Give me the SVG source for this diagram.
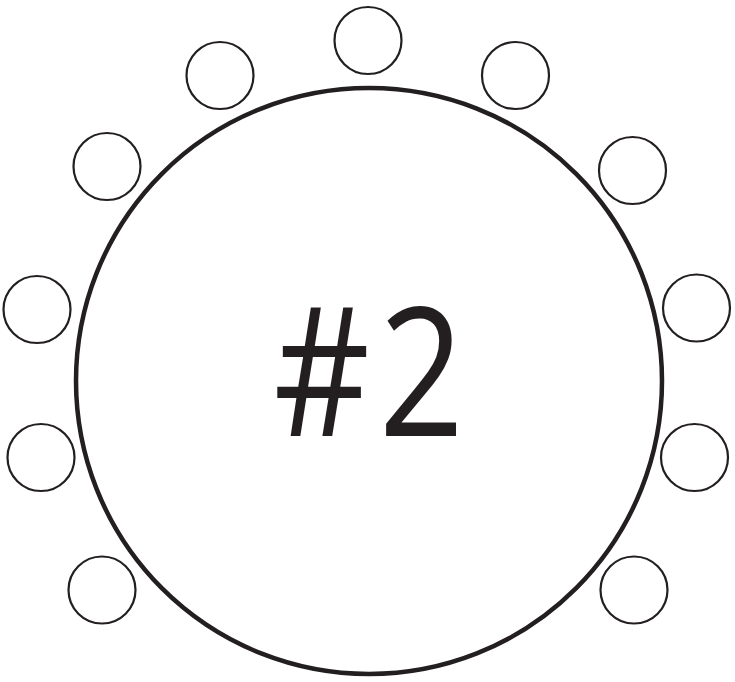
<svg xmlns="http://www.w3.org/2000/svg" width="735" height="682" viewBox="0 0 735 682">
<style>
.table{fill:#fff;stroke:#231f20;stroke-width:4.5}
.chair{fill:#fff;stroke:#231f20;stroke-width:2.2}
.label{font-family:"Open Sans","Noto Sans",sans-serif;font-size:180px;fill:#231f20}
</style>
<rect width="735" height="682" fill="#fff"/>
<g id="table">
<circle class="table" cx="369" cy="381" r="293"/>
<text class="label" transform="translate(273.4,436) scale(0.83,1)" x="0" y="0">#<tspan dx="10.7">2</tspan></text>
</g>
<g id="chair-1"><circle class="chair" cx="368" cy="40.5" r="33.5"/></g>
<g id="chair-2"><circle class="chair" cx="220" cy="75.5" r="33.5"/></g>
<g id="chair-3"><circle class="chair" cx="515.5" cy="75.5" r="33.5"/></g>
<g id="chair-4"><circle class="chair" cx="107" cy="166.5" r="33.5"/></g>
<g id="chair-5"><circle class="chair" cx="632.5" cy="170.5" r="33.5"/></g>
<g id="chair-6"><circle class="chair" cx="37" cy="309.5" r="33.5"/></g>
<g id="chair-7"><circle class="chair" cx="696.5" cy="308" r="33.5"/></g>
<g id="chair-8"><circle class="chair" cx="41" cy="457.5" r="33.5"/></g>
<g id="chair-9"><circle class="chair" cx="694.5" cy="457.5" r="33.5"/></g>
<g id="chair-10"><circle class="chair" cx="102" cy="590" r="33.5"/></g>
<g id="chair-11"><circle class="chair" cx="634" cy="590" r="33.5"/></g>
<g id="connectors"></g>
</svg>
